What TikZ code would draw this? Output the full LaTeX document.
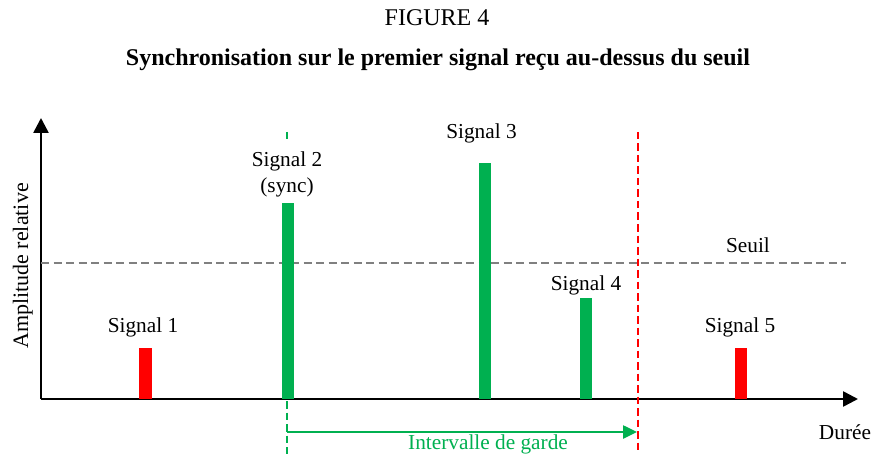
\documentclass[tikz,border=0pt]{standalone}
\usepackage{fontspec}
\setmainfont{Liberation Serif}
\usetikzlibrary{arrows.meta}
\definecolor{sgreen}{HTML}{00B050}
\definecolor{sred}{HTML}{FF0000}
\definecolor{sgray}{HTML}{808080}
\tikzset{
  lbl/.style={font=\fontsize{21.3}{25}\selectfont, anchor=base, inner sep=0pt},
  ttl/.style={font=\fontsize{24}{28}\selectfont, anchor=base, inner sep=0pt},
  axis/.style={line width=2.6pt, -{Triangle[length=15pt,width=15pt]}},
  greenbar/.style={fill=sgreen, draw=none},
  redbar/.style={fill=sred, draw=none},
  thresh/.style={sgray, line width=2.6pt, dash pattern=on 8pt off 4.5pt},
  redmark/.style={sred, line width=2.4pt, dash pattern=on 7.5pt off 4pt},
  greenmark/.style={sgreen, line width=2.4pt, dash pattern=on 7.5pt off 4pt},
  guard/.style={sgreen, line width=2.5pt, -{Triangle[length=14pt,width=13pt]}}
}
\begin{document}
\begin{tikzpicture}[x=1pt,y=-1pt]
\useasboundingbox (0,0) rectangle (874,454);

% titles
\node[ttl] (fig) at (437,26) {FIGURE 4};
\node[ttl, font=\fontsize{24}{28}\selectfont\bfseries] (title) at (438,66)
  {Synchronisation sur le premier signal reçu au-dessus du seuil};

% axes
\coordinate (o) at (41,399);
\coordinate (ytip) at (41,118);
\coordinate (xtip) at (858,399);
\draw[axis] (o) -- (ytip);
\draw[axis] (o) -- (xtip);

% threshold
\coordinate (s0) at (41,263);
\coordinate (s1) at (846,263);
\draw[thresh] (s0) -- (s1);
\node[lbl] (seuil) at (748,252) {Seuil};

% signals
\fill[redbar]   (139,348) rectangle (151.5,399);
\fill[greenbar] (282,203) rectangle (293.5,399);
\fill[greenbar] (479,163) rectangle (490.5,399);
\fill[greenbar] (580,298) rectangle (592,399);
\fill[redbar]   (735,348) rectangle (747,399);

\node[lbl] (l1) at (143,332) {Signal 1};
\node[lbl] (l2) at (287,167) {Signal 2};
\node[lbl] (l2b) at (287,193) {(sync)};
\node[lbl] (l3) at (481.5,139) {Signal 3};
\node[lbl] (l4) at (586,290) {Signal 4};
\node[lbl] (l5) at (740,332) {Signal 5};

% synchronisation instant and end of guard interval
\coordinate (g0) at (287,132);
\coordinate (g1) at (287,141);
\draw[greenmark] (g0) -- (g1);
\coordinate (g2) at (287,401);
\coordinate (g3) at (287,456);
\draw[greenmark] (g2) -- (g3);
\coordinate (r0) at (638,132);
\coordinate (r1) at (638,456);
\draw[redmark] (r0) -- (r1);

% guard interval
\coordinate (a0) at (287,432);
\coordinate (a1) at (637,432);
\draw[guard] (a0) -- (a1);
\node[lbl, text=sgreen] (gi) at (488,449) {Intervalle de garde};

\node[lbl] (duree) at (845,439) {Durée};
\node[lbl, rotate=90, font=\fontsize{22}{26}\selectfont] (amp) at (28,266) {Amplitude relative};
\end{tikzpicture}
\end{document}
